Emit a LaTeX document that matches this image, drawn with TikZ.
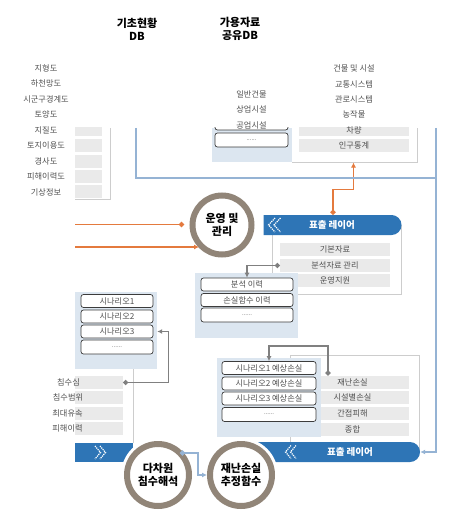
\documentclass[tikz,border=0pt]{standalone}
\usepackage{fontspec}
\newfontfamily\kr{Noto Sans CJK KR}
\usetikzlibrary{shapes.misc,arrows.meta}
\definecolor{lblue}{RGB}{220,230,240}
\definecolor{sblue}{RGB}{149,179,212}
\definecolor{gbox}{RGB}{234,234,234}
\definecolor{gline}{RGB}{205,205,205}
\definecolor{ring}{RGB}{145,133,120}
\definecolor{orng}{RGB}{228,122,62}
\definecolor{bbar}{RGB}{46,117,182}
\definecolor{conn}{RGB}{128,128,128}
\definecolor{txt}{RGB}{80,80,80}
\definecolor{rbd}{RGB}{60,60,60}
\begin{document}
\begin{tikzpicture}[x=1pt,y=-1pt,
  lbl/.style={font=\kr\fontsize{8.2}{9}\selectfont, text=txt, inner sep=0},
  gb/.style={fill=gbox, minimum height=13pt, inner sep=0, font=\kr\fontsize{8.2}{9}\selectfont, text=txt},
  rb/.style={draw=rbd, fill=white, rounded corners=2.5pt, line width=0.7pt, minimum height=13pt, inner sep=0, font=\kr\fontsize{8.2}{9}\selectfont, text=txt},
  dots/.style={font=\kr\fontsize{6}{7}\selectfont, minimum height=14pt},
  ttl/.style={font=\kr\bfseries\fontsize{11}{13}\selectfont, align=center, inner sep=0},
  ringc/.style={circle, draw=ring, line width=6pt, fill=white, inner sep=0, align=center, font=\kr\bfseries\fontsize{11}{13.5}\selectfont},
  halo/.style={preaction={draw=white, line width=12pt}},
  bar/.style={rounded rectangle, rounded rectangle west arc=none, fill=bbar, minimum height=20pt, inner sep=0, text=white, font=\kr\bfseries\fontsize{9.5}{10}\selectfont},
  bartext/.style={text=white, inner sep=0, font=\kr\bfseries\fontsize{9.5}{10}\selectfont},
  pnl/.style={fill=lblue, inner sep=0},
  wpnl/.style={draw=gline, fill=white, line width=0.8pt, inner sep=0},
  gconn/.style={draw=conn, line width=1.4pt, {Circle[length=5pt]}-{Latex[length=5pt,width=5pt]}},
  bconn/.style={draw=sblue, line width=1.5pt},
  oconn/.style={draw=orng, line width=1.5pt},
  icon/.style={draw=white, line width=1.2pt, dash pattern=on 1.2pt off 0.9pt}
]
\useasboundingbox (0,0) rectangle (456,513);

% titles
\node[ttl] (t1) at (137,29) {기초현황\\DB};
\node[ttl] (t2) at (240,29) {가용자료\\공유DB};

% left list frame and boxes
\draw[gline, line width=0.8pt] (75,199) -- (110.5,199) -- (110.5,128);
\node[pnl, minimum width=80pt, minimum height=34pt] (mp) at (252,145) {};
\begin{scope}
  \clip (0,128) rectangle (456,513);
  \node[gb, minimum width=27pt] (lb0) at (88.5,130) {};
  \node[rb, minimum width=73pt] (m0) at (251.5,123.5) {};
  \node[gb, minimum width=110pt] (r5) at (354,130) {};
\end{scope}
\node[gb, minimum width=27pt] (lb1) at (88.5,145.5) {};
\node[gb, minimum width=27pt] (lb2) at (88.5,161) {};
\node[gb, minimum width=27pt] (lb3) at (88.5,176.5) {};
\node[gb, minimum width=27pt] (lb4) at (88.5,191.5) {};

\node[lbl] (l1) at (46,68) {지형도};
\node[lbl] (l2) at (46,83.5) {하천망도};
\node[lbl] (l3) at (46,99) {시군구경계도};
\node[lbl] (l4) at (46,114.5) {토양도};
\node[lbl] (l5) at (46,130) {지질도};
\node[lbl] (l6) at (46,145.5) {토지이용도};
\node[lbl] (l7) at (46,161) {경사도};
\node[lbl] (l8) at (46,176.5) {피해이력도};
\node[lbl] (l9) at (46,192) {기상정보};

% middle DB
\node[rb, dots, minimum width=73pt] (m4) at (251.5,140) {......};
\node[lbl] (m1) at (251.5,94.5) {일반건물};
\node[lbl] (m2) at (251.5,109.5) {상업시설};
\node[lbl] (m3) at (251.5,125) {공업시설};

% right top panel
\draw[gline, line width=0.8pt] (292,162) -- (417,162) -- (417,128);
\node[gb, minimum width=110pt] (r6) at (354,145.5) {인구통계};
\node[lbl] (r1) at (354,68) {건물 및 시설};
\node[lbl] (r2) at (354,84) {교통시스템};
\node[lbl] (r3) at (354,99) {관로시스템};
\node[lbl] (r4) at (354,114.5) {농작물};
\node[lbl] (r5t) at (354,130) {차량};
\coordinate (rpb) at (353.5,162.5);

% upper 표출 레이어 block
\node[wpnl, minimum width=129pt, minimum height=69pt] (ap) at (336.5,259.5) {};
\node[gb, minimum width=110pt] (a1) at (335,249.5) {기본자료};
\node[gb, minimum width=110pt] (a2) at (335,265.5) {분석자료 관리};
\node[gb, minimum width=110pt] (a3) at (335,280.5) {운영지원};
\node[pnl, minimum width=103pt, minimum height=65pt] (hp) at (246.5,305.5) {};
\node[rb, minimum width=92pt] (h1) at (247,284.5) {분석 이력};
\node[rb, minimum width=92pt] (h2) at (247,300) {손실함수 이력};
\node[rb, dots, minimum width=92pt] (h3) at (247,315) {......};
\node[bar, minimum width=138pt] (bar1) at (332,225) {표출 레이어};
\draw[icon] (275,218) -- (268.5,225) -- (275,232);
\draw[icon] (280.5,218) -- (274,225) -- (280.5,232);
\draw[oconn, {Circle[length=5pt]}-{Latex[length=5pt,width=5pt]}] ([xshift=1pt]bar1.north) -- ++(0,-25.5) -| (rpb);
\draw[gconn] (a2.west) -| (h1.north);

% left scenario panel
\node[pnl, minimum width=82pt, minimum height=77pt] (sp) at (116,330.5) {};
\node[rb, minimum width=72pt] (s1) at (117,301) {시나리오1};
\node[rb, minimum width=72pt] (s2) at (117,316.5) {시나리오2};
\node[rb, minimum width=72pt] (s3) at (117,331.5) {시나리오3};
\node[rb, dots, minimum width=72pt] (s4) at (117,347) {......};

% lower-left list
\draw[gline, line width=0.8pt] (133,369) -- (133,443);
\node[gb, minimum width=48pt] (f1) at (99,382.5) {};
\node[gb, minimum width=48pt] (f2) at (99,397.5) {};
\node[gb, minimum width=48pt] (f3) at (99,413) {};
\node[gb, minimum width=48pt] (f4) at (99,428.5) {};
\node[lbl] (fl1) at (68.5,382) {침수심};
\node[lbl] (fl2) at (68,397.5) {침수범위};
\node[lbl] (fl3) at (67.5,413) {최대유속};
\node[lbl] (fl4) at (67.5,428.5) {피해이력};
\draw[gconn] (f1.east) -- ++(45,0) |- (s3.east -| sp.east);

% loss block
\node[wpnl, minimum width=129pt, minimum height=97pt] (lp) at (354.5,403.5) {};
\node[gb, minimum width=113pt] (g1) at (352.5,382) {재난손실};
\node[gb, minimum width=113pt] (g2) at (352.5,397.7) {시설별손실};
\node[gb, minimum width=113pt] (g3) at (352.5,413.4) {간접피해};
\node[gb, minimum width=113pt] (g4) at (352.5,429) {종합};
\node[pnl, minimum width=104pt, minimum height=79pt] (lq) at (269,397.5) {};
\node[rb, minimum width=94pt] (sl1) at (269,368) {시나리오1 예상손실};
\node[rb, minimum width=94pt] (sl2) at (269,383.5) {시나리오2 예상손실};
\node[rb, minimum width=94pt] (sl3) at (269,398.5) {시나리오3 예상손실};
\node[rb, dots, minimum width=94pt] (sl4) at (269,414.5) {......};
\coordinate (d2) at (328,375.5);
\draw[gconn] (d2) -- ++(0,-29.5) -| (sl1.north);

% lower bars
\node[bar, minimum width=170pt] (bar2) at (335,452) {};
\node[bartext] (bar2t) at (350,452) {표출 레이어};
\draw[icon] (291,445.5) -- (285.5,452) -- (291,458.5);
\draw[icon] (296,445.5) -- (290.5,452) -- (296,458.5);
\node[fill=bbar, minimum width=58pt, minimum height=19pt, inner sep=0] (tab) at (104,452.5) {};
\draw[icon] (95,446) -- (100.5,452.5) -- (95,459);
\draw[icon] (100,446) -- (105.5,452.5) -- (100,459);

% circles
\node[ringc, minimum size=59pt] (c1) at (222,225) {운영 및\\관리};
\node[ringc, halo, minimum size=62pt] (c2) at (158,475) {다차원\\침수해석};
\node[ringc, halo, minimum size=62pt] (c3) at (241,475) {재난손실\\추정함수};

% connectors on top
\coordinate (c2d) at (180,453);
\draw[bconn, {Circle[length=5pt]}-{Latex[length=5pt,width=5pt]}] (c2d) -- ++(18,0) |- (c3.west);
\coordinate (o1a) at (75,224.5);
\coordinate (o1b) at (184,224.5);
\draw[oconn, -{Circle[length=5pt]}] (o1a) -- (o1b);
\coordinate (o2a) at (75,247);
\coordinate (o2b) at (199,247);
\draw[oconn, -{Latex[length=5pt,width=5pt]}] (o2a) -- (o2b);

% blue frame
\coordinate (fa) at (136,128);
\coordinate (fc) at (136,178);
\coordinate (fb) at (436,128);
\draw[bconn] (fa) -- (fc) -- (fc -| fb);
\draw[bconn, -{Latex[length=5pt,width=5pt]}] (fb) -- (fb |- bar2.east) -- (bar2.east);
\end{tikzpicture}
\end{document}
